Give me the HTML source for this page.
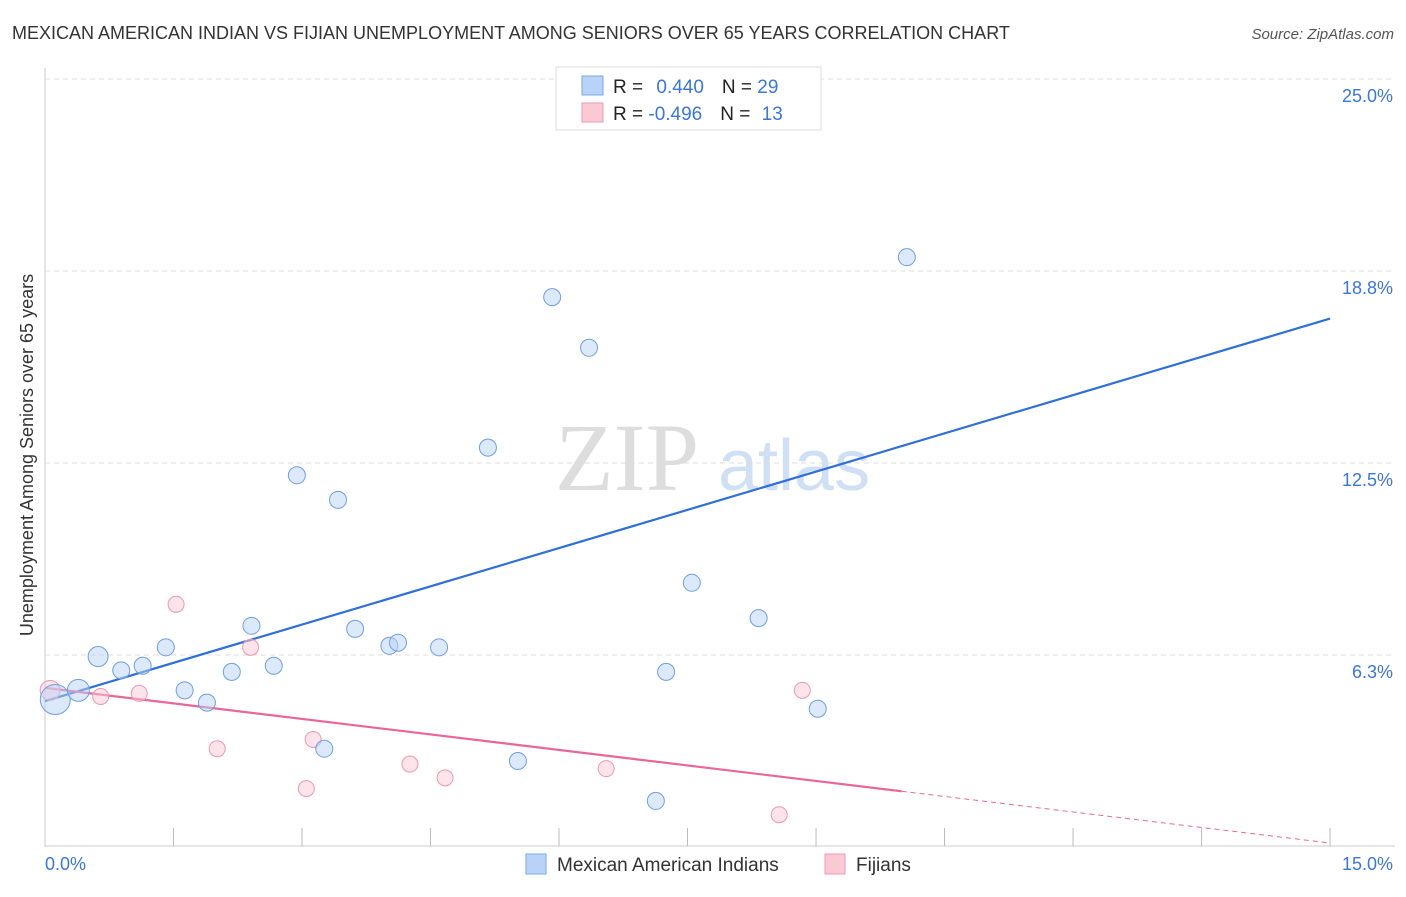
<!DOCTYPE html>
<html><head><meta charset="utf-8"><style>
body{margin:0;background:#fff;font-family:"Liberation Sans",sans-serif}
</style></head><body>
<svg id="chart" width="1406" height="892" xmlns="http://www.w3.org/2000/svg" font-family="Liberation Sans, sans-serif">
<text x="12" y="39" font-size="18" fill="#333">MEXICAN AMERICAN INDIAN VS FIJIAN UNEMPLOYMENT AMONG SENIORS OVER 65 YEARS CORRELATION CHART</text>
<text x="1394" y="39" font-size="15" fill="#555" text-anchor="end" font-style="italic">Source: ZipAtlas.com</text>
<text x="555" y="490" font-size="96" fill="#ddd" font-family="Liberation Serif, serif">ZIP</text>
<text x="718" y="490" font-size="72" fill="#cfe0f5">atlas</text>
<text transform="translate(33,455) rotate(-90)" font-size="18" fill="#333" text-anchor="middle">Unemployment Among Seniors over 65 years</text>
<g id="grid"></g><g id="axes"></g><g id="lines"></g><g id="pts"></g>
<g>
<rect x="556" y="67" width="265" height="63" fill="#fff" stroke="#ddd"/>
<rect x="582" y="76" width="21" height="19" fill="#b8d3f5" stroke="#7aa8e6"/>
<text x="613" y="93" font-size="19" fill="#222">R = <tspan fill="#3b76d8" dx="8">0.440</tspan><tspan dx="18" fill="#222">N = </tspan><tspan fill="#3b76d8">29</tspan></text>
<rect x="582" y="103" width="21" height="19" fill="#fbc8d6" stroke="#ec98b2"/>
<text x="613" y="120" font-size="19" fill="#222">R = <tspan fill="#3b76d8">-0.496</tspan><tspan dx="18" fill="#222">N = </tspan><tspan fill="#3b76d8" dx="6">13</tspan></text>
</g>
<g>
<rect x="526" y="854" width="20" height="20" fill="#b8d3f5" stroke="#7aa8e6"/>
<text x="557" y="871" font-size="19" fill="#333">Mexican American Indians</text>
<rect x="825" y="854" width="20" height="20" fill="#fbc8d6" stroke="#ec98b2"/>
<text x="856" y="871" font-size="19" fill="#333">Fijians</text>
</g>
</svg>
<script>
const yTicks=[6.25,12.5,18.75,25];
const yTickLabels=["6.3%","12.5%","18.8%","25.0%"];
const blueX=[0.12,0.39,0.62,0.89,1.14,1.41,1.63,1.89,2.18,2.41,2.67,2.94,3.26,3.42,3.62,4.02,4.12,4.6,5.17,5.52,5.92,6.35,7.13,7.25,7.55,8.28,8.33,9.02,10.06];
const blueY=[4.8,5.1,6.2,5.75,5.9,6.5,5.1,4.7,5.7,7.2,5.9,12.1,3.2,11.3,7.1,6.55,6.65,6.5,13.0,2.8,17.9,16.25,1.5,5.7,8.6,24.8,7.45,4.5,19.2];
const pinkX=[0.06,0.65,1.1,1.53,2.01,2.4,3.05,3.13,4.26,4.67,6.55,8.57,8.84];
const pinkY=[5.1,4.9,5.0,7.9,3.2,6.5,1.9,3.5,2.7,2.25,2.55,1.05,5.1];
const blueLine=[4.75,17.2];
const pinkLine=[5.18,0.13];
const pinkSolidEnd=10.0;
const NS="http://www.w3.org/2000/svg";
const X=v=>45+v*85.67, Y=v=>847-v*30.72;
function mk(t,a,p){const e=document.createElementNS(NS,t);for(const k in a)e.setAttribute(k,a[k]);document.getElementById(p).appendChild(e);return e;}
yTicks.forEach((t,i)=>{
 let l=mk('line',{x1:45,x2:1395,y1:Y(t),y2:Y(t),stroke:'#ddd','stroke-dasharray':'5,4'},'grid');
 
 
 let tx=mk('text',{x:1393,y:Y(t)+23,'font-size':18,fill:'#3b76d8','text-anchor':'end'},'grid');tx.textContent=yTickLabels[i];
 
 
});
let ax=mk('line',{x1:45,x2:45,y1:68,y2:847,stroke:'#ccc'},'axes');


let bx=mk('line',{x1:45,x2:1395,y1:846,y2:846,stroke:'#ccc'},'axes');


for(let i=1;i<=10;i++){let t=mk('line',{x1:X(i*1.5),x2:X(i*1.5),y1:828,y2:846,stroke:'#bbb'},'axes');
 
 }
[[0,"0.0%",'start',45],[15,"15.0%",'end',1393]].forEach(d=>{let t=mk('text',{x:d[3],y:870,'font-size':18,fill:'#3b76d8','text-anchor':d[2]},'axes');t.textContent=d[1];
 
 });
let bl=mk('line',{x1:X(0),y1:Y(blueLine[0]),x2:X(15),y2:Y(blueLine[1]),stroke:'#2f6fd8','stroke-width':2.2},'lines');


const pAt=x=>pinkLine[0]+(pinkLine[1]-pinkLine[0])*x/15;
let pl=mk('line',{x1:X(0),y1:Y(pinkLine[0]),x2:X(pinkSolidEnd),y2:Y(pAt(pinkSolidEnd)),stroke:'#e8679a','stroke-width':2.2},'lines');


let pd=mk('line',{x1:X(pinkSolidEnd),y1:Y(pAt(pinkSolidEnd)),x2:X(15),y2:Y(pinkLine[1]),stroke:'#e8679a','stroke-width':1,'stroke-dasharray':'5,4'},'lines');


pinkX.forEach((x,i)=>{let c=mk('circle',{cx:X(x),cy:Y(pinkY[i]),r:i==0?10:8,fill:'rgba(251,200,214,0.5)',stroke:'#ec98b2','stroke-width':1},'pts');
 
 });
blueX.forEach((x,i)=>{let c=mk('circle',{cx:X(x),cy:Y(blueY[i]),r:i==0?15:(i==1?11:(i==2?10:8.5)),fill:'rgba(184,211,245,0.5)',stroke:'#6f9fdf','stroke-width':1},'pts');
 
 });
</script>
</body></html>
